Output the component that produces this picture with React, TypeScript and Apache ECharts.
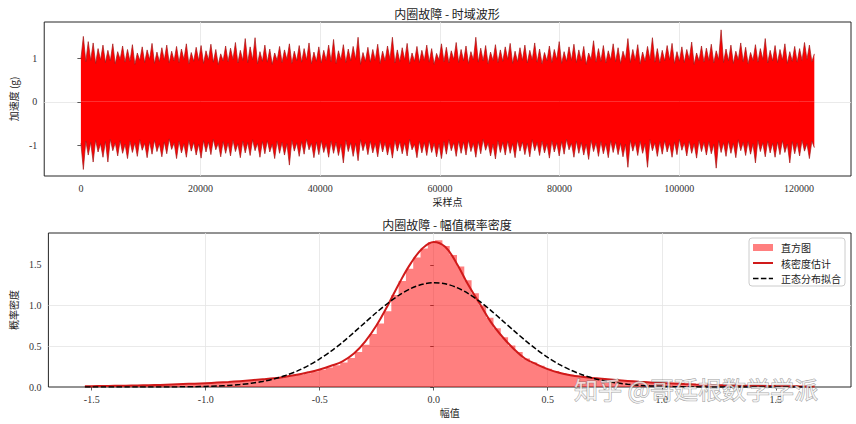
import React, { useEffect, useRef } from "react";
import * as echarts from "echarts";

// ---------- data ----------
const N_SAMPLES = 122571;

// upper envelope of the time waveform (alternating troughs / spike tips)
const WAVE_UPPER = [
  0.98,1.50, 0.92,1.38, 0.95,1.35, 0.88,1.22, 0.96,1.30, 0.90,1.18, 0.94,1.33, 0.87,1.15, 0.97,1.28, 0.91,1.20,
  0.93,1.31, 0.86,1.12, 0.95,1.26, 0.90,1.19, 0.97,1.34, 0.88,1.14, 0.92,1.24, 0.96,1.30, 0.89,1.16, 0.94,1.27,
  0.90,1.21, 0.97,1.33, 0.87,1.13, 0.93,1.25, 0.95,1.29, 0.88,1.17, 0.96,1.32, 0.91,1.20, 0.85,1.10, 0.94,1.28,
  0.92,1.23, 0.97,1.36, 0.89,1.18, 0.95,1.45, 0.90,1.26, 0.96,1.47, 0.87,1.15, 0.93,1.30, 0.91,1.21, 0.86,1.12,
  0.95,1.27, 0.90,1.19, 0.97,1.33, 0.88,1.16, 0.94,1.29, 0.91,1.22, 0.96,1.35, 0.87,1.14, 0.93,1.26, 0.89,1.18,
  0.95,1.30, 0.92,1.43, 0.88,1.17, 0.96,1.31, 0.90,1.21, 0.94,1.27, 0.97,1.48, 0.86,1.13, 0.93,1.25, 0.91,1.20,
  0.95,1.32, 0.88,1.16, 0.94,1.28, 0.97,1.48, 0.89,1.19, 0.92,1.24, 0.96,1.34, 0.87,1.12, 0.93,1.27, 0.90,1.18,
  0.95,1.30, 0.91,1.22, 0.86,1.11, 0.96,1.33, 0.92,1.25, 0.89,1.17, 0.97,1.36, 0.90,1.20, 0.94,1.28, 0.88,1.15,
  0.96,1.48, 0.91,1.23, 0.94,1.29, 0.87,1.14, 0.95,1.31, 0.90,1.19, 0.93,1.26, 0.97,1.34, 0.88,1.16, 0.92,1.24,
  0.95,1.30, 0.89,1.18, 0.96,1.35, 0.91,1.21, 0.87,1.13, 0.94,1.28, 0.90,1.20, 0.97,1.38, 0.88,1.15, 0.93,1.26,
  0.95,1.32, 0.90,1.19, 0.94,1.27, 0.86,1.12, 0.97,1.40, 0.91,1.22, 0.93,1.29, 0.89,1.17, 0.96,1.33, 0.92,1.24,
  0.88,1.16, 0.97,1.45, 0.90,1.20, 0.95,1.31, 0.87,1.14, 0.93,1.27, 0.96,1.47, 0.91,1.22, 0.89,1.18, 0.94,1.29,
  0.96,1.34, 0.88,1.15, 0.93,1.26, 0.90,1.20, 0.97,1.37, 0.86,1.12, 0.94,1.28, 0.91,1.23, 0.95,1.32, 0.89,1.17,
  0.97,1.65, 0.90,1.21, 0.94,1.30, 0.88,1.16, 0.96,1.35, 0.92,1.25, 0.87,1.13, 0.95,1.31, 0.91,1.22, 0.97,1.45,
  0.89,1.18, 0.94,1.29, 0.90,1.20, 0.96,1.33, 0.88,1.15, 0.93,1.27, 0.91,1.22, 0.95,1.36, 0.97,1.30, 0.92,1.10,
];

// lower envelope of the time waveform
const WAVE_LOWER = [
  -0.95,-1.55, -0.90,-1.22, -0.93,-1.38, -0.88,-1.15, -0.96,-1.27, -0.91,-1.38, -0.86,-1.12, -0.94,-1.24, -0.89,-1.18, -0.97,-1.30,
  -0.90,-1.16, -0.94,-1.25, -0.87,-1.11, -0.95,-1.28, -0.91,-1.20, -0.88,-1.14, -0.96,-1.26, -0.92,-1.19, -0.85,-1.09, -0.94,-1.30,
  -0.90,-1.17, -0.96,-1.27, -0.88,-1.13, -0.93,-1.22, -0.97,-1.29, -0.89,-1.15, -0.92,-1.21, -0.86,-1.10, -0.95,-1.26, -0.91,-1.18,
  -0.94,-1.24, -0.88,-1.14, -0.96,-1.28, -0.90,-1.17, -0.93,-1.23, -0.87,-1.12, -0.95,-1.27, -0.91,-1.19, -0.89,-1.15, -0.97,-1.30,
  -0.90,-1.18, -0.93,-1.22, -0.96,-1.45, -0.88,-1.13, -0.94,-1.25, -0.91,-1.20, -0.86,-1.10, -0.95,-1.28, -0.92,-1.21, -0.89,-1.16,
  -0.96,-1.27, -0.90,-1.18, -0.93,-1.23, -0.97,-1.40, -0.88,-1.14, -0.94,-1.25, -0.95,-1.35, -0.87,-1.12, -0.92,-1.21, -0.90,-1.17,
  -0.95,-1.26, -0.89,-1.15, -0.93,-1.22, -0.96,-1.29, -0.88,-1.13, -0.91,-1.19, -0.94,-1.24, -0.86,-1.10, -0.97,-1.28, -0.90,-1.17,
  -0.93,-1.23, -0.89,-1.16, -0.95,-1.26, -0.96,-1.30, -0.91,-1.20, -0.87,-1.12, -0.94,-1.25, -0.90,-1.18, -0.92,-1.22, -0.88,-1.14,
  -0.95,-1.27, -0.91,-1.19, -0.86,-1.11, -0.94,-1.24, -0.97,-1.31, -0.89,-1.16, -0.93,-1.22, -0.90,-1.18, -0.96,-1.28, -0.88,-1.13,
  -0.92,-1.21, -0.95,-1.26, -0.87,-1.12, -0.93,-1.23, -0.90,-1.17, -0.96,-1.29, -0.89,-1.15, -0.94,-1.24, -0.91,-1.20, -0.86,-1.10,
  -0.95,-1.27, -0.90,-1.18, -0.93,-1.22, -0.97,-1.32, -0.88,-1.14, -0.94,-1.25, -0.91,-1.19, -0.96,-1.28, -0.89,-1.16, -0.92,-1.21,
  -0.95,-1.26, -0.97,-1.50, -0.88,-1.13, -0.93,-1.23, -0.90,-1.18, -0.96,-1.50, -0.87,-1.12, -0.94,-1.25, -0.91,-1.20, -0.89,-1.15,
  -0.95,-1.27, -0.92,-1.21, -0.86,-1.11, -0.94,-1.24, -0.90,-1.18, -0.96,-1.29, -0.88,-1.14, -0.93,-1.22, -0.91,-1.19, -0.97,-1.52,
  -0.89,-1.16, -0.94,-1.25, -0.90,-1.18, -0.95,-1.28, -0.87,-1.12, -0.93,-1.23, -0.91,-1.20, -0.96,-1.40, -0.88,-1.14, -0.94,-1.26,
  -0.90,-1.17, -0.95,-1.27, -0.92,-1.21, -0.89,-1.16, -0.97,-1.40, -0.91,-1.19, -0.94,-1.24, -0.88,-1.13, -0.96,-1.30, -0.90,-1.05,
];

// histogram (density), 100 bins between HIST_MIN and HIST_MAX
const HIST_MIN = -1.53;
const HIST_MAX = 1.67;
const HIST_DENSITY = [
  0.009, 0.010, 0.011, 0.012, 0.014, 0.015, 0.017, 0.018, 0.020, 0.023,
  0.025, 0.028, 0.031, 0.034, 0.038, 0.041, 0.045, 0.049, 0.053, 0.058,
  0.064, 0.070, 0.077, 0.085, 0.092, 0.100, 0.110, 0.122, 0.135, 0.150,
  0.168, 0.190, 0.212, 0.240, 0.268, 0.300, 0.355, 0.430, 0.520, 0.650,
  0.780, 0.930, 1.130, 1.300, 1.450, 1.590, 1.700, 1.775, 1.800, 1.730,
  1.620, 1.480, 1.310, 1.150, 1.000, 0.850, 0.720, 0.610, 0.510, 0.430,
  0.350, 0.300, 0.260, 0.225, 0.195, 0.170, 0.150, 0.135, 0.122, 0.112,
  0.104, 0.096, 0.088, 0.081, 0.075, 0.069, 0.063, 0.057, 0.052, 0.047,
  0.043, 0.039, 0.035, 0.032, 0.029, 0.026, 0.024, 0.022, 0.020, 0.018,
  0.016, 0.015, 0.013, 0.012, 0.011, 0.010, 0.009, 0.008, 0.007, 0.006,
];

const KDE_X = [
  -1.53, -1.50, -1.45, -1.40, -1.35, -1.30, -1.25, -1.20, -1.15, -1.10, -1.05, -1.00,
  -0.95, -0.90, -0.85, -0.80, -0.75, -0.70, -0.65, -0.60, -0.55, -0.50, -0.45, -0.40,
  -0.35, -0.30, -0.25, -0.20, -0.15, -0.10, -0.05, 0.00, 0.05, 0.10, 0.15, 0.20,
  0.25, 0.30, 0.35, 0.40, 0.45, 0.50, 0.55, 0.60, 0.65, 0.70, 0.75, 0.80,
  0.85, 0.90, 0.95, 1.00, 1.05, 1.10, 1.15, 1.20, 1.25, 1.30, 1.35, 1.40,
  1.45, 1.50, 1.55, 1.60, 1.65, 1.67,
];
const KDE_Y = [
  0.009, 0.010, 0.012, 0.014, 0.016, 0.019, 0.022, 0.026, 0.031, 0.036, 0.041, 0.047,
  0.054, 0.062, 0.072, 0.083, 0.095, 0.108, 0.127, 0.150, 0.180, 0.215, 0.260, 0.315,
  0.410, 0.560, 0.760, 1.010, 1.280, 1.520, 1.700, 1.780, 1.720, 1.520, 1.260, 1.030,
  0.800, 0.620, 0.470, 0.350, 0.280, 0.220, 0.175, 0.145, 0.125, 0.110, 0.097, 0.085,
  0.075, 0.065, 0.056, 0.048, 0.042, 0.036, 0.031, 0.027, 0.023, 0.020, 0.017, 0.015,
  0.013, 0.011, 0.010, 0.008, 0.007, 0.006,
];
const NORMAL_Y = [
  0.000, 0.000, 0.000, 0.000, 0.000, 0.000, 0.001, 0.001, 0.001, 0.002, 0.004, 0.007,
  0.012, 0.019, 0.030, 0.046, 0.068, 0.100, 0.142, 0.195, 0.263, 0.345, 0.441, 0.549,
  0.670, 0.794, 0.917, 1.031, 1.131, 1.210, 1.260, 1.280, 1.267, 1.222, 1.149, 1.053,
  0.941, 0.818, 0.695, 0.575, 0.463, 0.363, 0.278, 0.208, 0.151, 0.107, 0.074, 0.050,
  0.033, 0.021, 0.013, 0.008, 0.005, 0.003, 0.002, 0.001, 0.001, 0.000, 0.000, 0.000,
  0.000, 0.000, 0.000, 0.000, 0.000, 0.000,
];

const TOP_X_TICKS = [0, 20000, 40000, 60000, 80000, 100000, 120000];
const TOP_Y_TICKS = [-1, 0, 1];
const BOT_X_TICKS = [-1.5, -1.0, -0.5, 0, 0.5, 1.0, 1.5];
const BOT_Y_TICKS = [0, 0.5, 1.0, 1.5];

const TITLE_TOP = "内圈故障 - 时域波形";
const TITLE_BOTTOM = "内圈故障 - 幅值概率密度";
const LEGEND_NAMES = ["直方图", "核密度估计", "正态分布拟合"];
const WATERMARK = "知乎 @哥廷根数学学派";

// ---------- styles ----------
const SERIF = "'Liberation Serif', 'Noto Sans CJK SC', serif";
const CJK = "'Noto Sans CJK SC', sans-serif";
const FRAME = "#262626";
const GRIDLINE = "#e4e4e4";
const HIST_COLOR = "rgba(255,0,0,0.5)";
const KDE_COLOR = "#d01a1a";
const NORM_COLOR = "#000000";
const NORM_DASH = [5.5, 2.4];

function axisCommon(ticks: number[], fmt: (v: number) => string) {
  return {
    axisLine: { show: false },
    axisTick: { show: true, length: 3.5, lineStyle: { color: "#333", width: 0.8 }, customValues: ticks },
    axisLabel: {
      customValues: ticks,
      formatter: fmt,
      fontFamily: SERIF,
      fontSize: 10,
      color: "#333",
      margin: 7,
    },
    splitLine: { show: true, showMinLine: false, showMaxLine: false, lineStyle: { color: GRIDLINE, width: 0.8 } },
    nameTextStyle: { fontFamily: CJK, fontSize: 10, color: "#222" },
  };
}

function legendGraphic() {
  const x0 = 749, y0 = 238, w = 96, h = 48;
  const sx = 753, tx = 781;
  const rows = [247.5, 263, 278.5];
  const textStyle = (t: string, y: number) => ({
    type: "text", x: tx, y, z: 60,
    style: { text: t, align: "left", verticalAlign: "middle", fontFamily: CJK, fontSize: 10, fill: "#222" },
  });
  return [
    {
      type: "rect", z: 50,
      shape: { x: x0, y: y0, width: w, height: h, r: 3 },
      style: { fill: "rgba(255,255,255,0.8)", stroke: "#cccccc", lineWidth: 1 },
    },
    { type: "rect", z: 60, shape: { x: sx, y: rows[0] - 3.5, width: 20, height: 7 }, style: { fill: HIST_COLOR } },
    textStyle(LEGEND_NAMES[0], rows[0]),
    {
      type: "line", z: 60,
      shape: { x1: sx, y1: rows[1], x2: sx + 20, y2: rows[1] },
      style: { stroke: KDE_COLOR, lineWidth: 2 },
    },
    textStyle(LEGEND_NAMES[1], rows[1]),
    {
      type: "line", z: 60,
      shape: { x1: sx, y1: rows[2], x2: sx + 20, y2: rows[2] },
      style: { stroke: NORM_COLOR, lineWidth: 1.5, lineDash: NORM_DASH },
    },
    textStyle(LEGEND_NAMES[2], rows[2]),
  ];
}

export default function App() {
  const ref = useRef<HTMLDivElement>(null);

  useEffect(() => {
    if (!ref.current) return;
    const chart = echarts.init(ref.current, undefined, { renderer: "svg" });

    const stepU = (N_SAMPLES - 1) / (WAVE_UPPER.length - 1);
    const stepL = (N_SAMPLES - 1) / (WAVE_LOWER.length - 1);
    const upperData = WAVE_UPPER.map((v, i) => [i * stepU, v]);
    const lowerData = WAVE_LOWER.map((v, i) => [i * stepL, v]);

    const binW = (HIST_MAX - HIST_MIN) / HIST_DENSITY.length;
    const histData: number[][] = HIST_DENSITY.map((v, i) => [HIST_MIN + i * binW, v]);
    histData.push([HIST_MAX, HIST_DENSITY[HIST_DENSITY.length - 1]]);

    const kdeData = KDE_X.map((x, i) => [x, KDE_Y[i]]);
    const normData = KDE_X.map((x, i) => [x, NORMAL_Y[i]]);

    const option: any = {
      animation: false,
      textStyle: { fontFamily: SERIF },
      grid: [
        { left: 43, top: 22, width: 808, height: 154, show: true, borderColor: FRAME, borderWidth: 1, backgroundColor: "transparent" },
        { left: 43, top: 233, width: 808, height: 154, show: true, borderColor: FRAME, borderWidth: 1, backgroundColor: "transparent" },
      ],
      xAxis: [
        {
          type: "value", gridIndex: 0, min: -6128, max: 128700, splitNumber: 7,
          name: "采样点", nameLocation: "middle", nameGap: 20,
          ...axisCommon(TOP_X_TICKS, (v: number) => String(v)),
        },
        {
          type: "value", gridIndex: 1, min: -1.69, max: 1.83, splitNumber: 7,
          name: "幅值", nameLocation: "middle", nameGap: 20,
          ...axisCommon(BOT_X_TICKS, (v: number) => v.toFixed(1)),
        },
      ],
      yAxis: [
        {
          type: "value", gridIndex: 0, min: -1.7, max: 1.83, splitNumber: 3,
          name: "加速度 (g)", nameLocation: "middle", nameGap: 20,
          ...axisCommon(TOP_Y_TICKS, (v: number) => String(v)),
        },
        {
          type: "value", gridIndex: 1, min: 0, max: 1.89, splitNumber: 4,
          name: "概率密度", nameLocation: "middle", nameGap: 28,
          ...axisCommon(BOT_Y_TICKS, (v: number) => v.toFixed(1)),
        },
      ],
      graphic: [
        {
          type: "text", x: 447, y: 13, z: 10,
          style: { text: TITLE_TOP, align: "center", verticalAlign: "middle", fontFamily: CJK, fontSize: 12, fill: "#222" },
        },
        {
          type: "text", x: 447, y: 224, z: 10,
          style: { text: TITLE_BOTTOM, align: "center", verticalAlign: "middle", fontFamily: CJK, fontSize: 12, fill: "#222" },
        },
        ...legendGraphic(),
        {
          type: "text", x: 574, y: 388, z: 100,
          style: {
            text: WATERMARK, align: "left", verticalAlign: "middle", fontFamily: CJK, fontSize: 24,
            fill: "rgba(255,255,255,0.72)", stroke: "rgba(95,95,95,0.6)", lineWidth: 1,
          },
        },
      ],
      series: [
        {
          type: "line", xAxisIndex: 0, yAxisIndex: 0, data: upperData, symbol: "none",
          lineStyle: { color: "#a41818", width: 0.7 },
          areaStyle: { color: "#ff0000", opacity: 1 },
          z: 2,
        },
        {
          type: "line", xAxisIndex: 0, yAxisIndex: 0, data: lowerData, symbol: "none",
          lineStyle: { color: "#a41818", width: 0.7 },
          areaStyle: { color: "#ff0000", opacity: 1 },
          z: 2,
        },
        {
          name: LEGEND_NAMES[0], type: "line", step: "end", xAxisIndex: 1, yAxisIndex: 1, data: histData, symbol: "none",
          itemStyle: { color: HIST_COLOR },
          lineStyle: { width: 0, color: HIST_COLOR },
          areaStyle: { color: HIST_COLOR, opacity: 1 },
          z: 2,
        },
        {
          name: LEGEND_NAMES[1], type: "line", xAxisIndex: 1, yAxisIndex: 1, data: kdeData, symbol: "none",
          smooth: 0.4,
          itemStyle: { color: KDE_COLOR },
          lineStyle: { color: KDE_COLOR, width: 2 },
          z: 3,
        },
        {
          name: LEGEND_NAMES[2], type: "line", xAxisIndex: 1, yAxisIndex: 1, data: normData, symbol: "none",
          smooth: 0.3,
          itemStyle: { color: NORM_COLOR },
          lineStyle: { color: NORM_COLOR, width: 1.5, type: NORM_DASH },
          z: 4,
        },
      ],
    };

    chart.setOption(option);
    return () => chart.dispose();
  }, []);

  return (
    <div
      ref={ref}
      style={{ position: "absolute", left: 0, top: 0, width: 856, height: 424, background: "#fff" }}
    />
  );
}
